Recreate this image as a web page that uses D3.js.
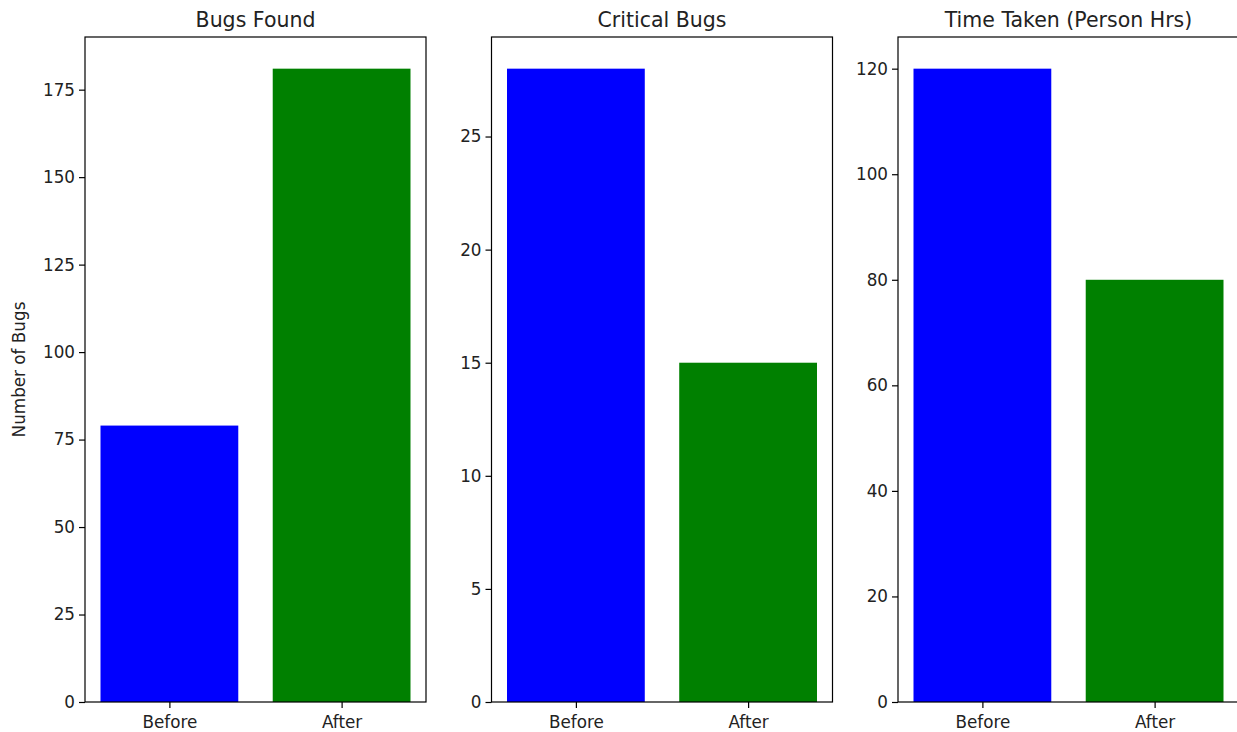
<!DOCTYPE html>
<html>
<head>
<meta charset="utf-8">
<script src="https://cdn.jsdelivr.net/npm/d3@7"></script>
<style>
  body { margin: 0; background: #fff; }
  text { font-family: "DejaVu Sans", sans-serif; fill: #222; }
</style>
</head>
<body>
<div id="chart"></div>
<script>
// data
const categories = ["Before", "After"];
const barColors = ["#0000ff", "#008000"];
const panelTitles = ["Bugs Found", "Critical Bugs", "Time Taken (Person Hrs)"];
const bugsFound = [79, 181];
const criticalBugs = [28, 15];
const timeTaken = [120, 80];
const ticksBugsFound = [0, 25, 50, 75, 100, 125, 150, 175];
const ticksCritical = [0, 5, 10, 15, 20, 25];
const ticksTime = [0, 20, 40, 60, 80, 100, 120];

const panels = [
    { title: panelTitles[0], values: bugsFound, ticks: ticksBugsFound, ylabel: "Number of Bugs" },
    { title: panelTitles[1], values: criticalBugs, ticks: ticksCritical, ylabel: null },
    { title: panelTitles[2], values: timeTaken, ticks: ticksTime, ylabel: null }
];

const W = 1237, H = 732;
const axTop = 37, axBottom = 702, panelW = 341;
const lefts = [85, 491.5, 898];

const svg = d3.select("#chart")
    .append("svg")
    .attr("width", W)
    .attr("height", H);

panels.forEach(function (p, i) {
    const g = svg.append("g")
        .attr("transform", `translate(${lefts[i]},0)`);

    // matplotlib style limits: bars width 0.8, 5% margins
    const x = d3.scaleLinear()
        .domain([-0.49, 1.49])
        .range([0, panelW]);
    const y = d3.scaleLinear()
        .domain([0, d3.max(p.values) * 1.05])
        .range([axBottom, axTop]);

    g.selectAll("rect.bar")
        .data(p.values)
        .join("rect")
        .attr("class", "bar")
        .attr("x", (d, j) => x(j - 0.4))
        .attr("width", (d, j) => x(j + 0.4) - x(j - 0.4))
        .attr("y", d => y(d))
        .attr("height", d => y(0) - y(d))
        .attr("fill", (d, j) => barColors[j]);

    // y axis
    const yAxis = g.append("g")
        .call(d3.axisLeft(y).tickValues(p.ticks).tickSize(6).tickPadding(4).tickFormat(d3.format("d")));
    // x axis
    const xAxis = g.append("g")
        .attr("transform", `translate(0,${axBottom})`)
        .call(d3.axisBottom(x).tickValues([0, 1]).tickSize(6).tickPadding(8)
            .tickFormat(j => categories[j]));

    [yAxis, xAxis].forEach(function (a) {
        a.select(".domain").remove();
        a.selectAll(".tick line").attr("stroke", "#000").attr("stroke-width", 1.2);
        a.selectAll(".tick text").style("font-size", "16.8px").attr("fill", "#222");
    });

    // frame
    g.append("rect")
        .attr("x", 0)
        .attr("y", axTop)
        .attr("width", panelW)
        .attr("height", axBottom - axTop)
        .attr("fill", "none")
        .attr("stroke", "#000")
        .attr("stroke-width", 1.2);

    g.append("text")
        .attr("x", panelW / 2)
        .attr("y", 27)
        .attr("text-anchor", "middle")
        .style("font-size", "20.5px")
        .text(p.title);

    if (p.ylabel) {
        g.append("text")
            .attr("transform", `translate(${-lefts[i] + 25},${(axTop + axBottom) / 2}) rotate(-90)`)
            .attr("text-anchor", "middle")
            .style("font-size", "16.8px")
            .text(p.ylabel);
    }
});
</script>
</body>
</html>
